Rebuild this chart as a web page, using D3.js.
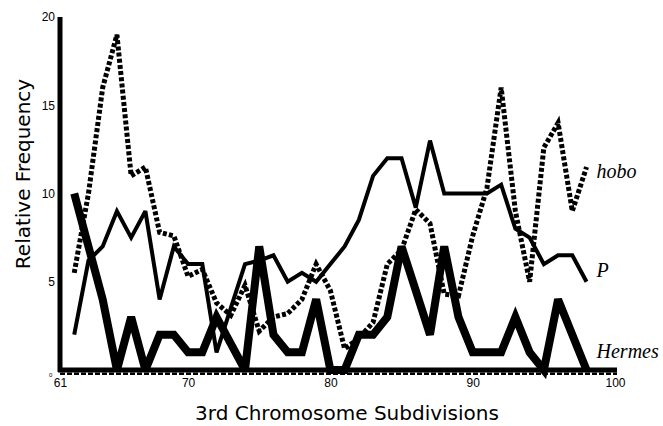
<!DOCTYPE html>
<html>
<head>
<meta charset="utf-8">
<script src="https://cdn.jsdelivr.net/npm/d3@7.9.0/dist/d3.min.js"></script>
<style>
  body { margin: 0; background: #fff; }
  svg { display: block; }
  .tick text { font-family: "Liberation Sans", Arial, sans-serif; fill: #000; }
  .title { font-family: "DejaVu Sans", sans-serif; fill: #000; }
  .series-label { font-family: "Liberation Serif", "Times New Roman", serif; font-style: italic; fill: #000; }
</style>
</head>
<body>
<svg id="chart" width="663" height="426"></svg>
<script>
// chromosome 3 subdivisions (x) and relative frequency of insertions per element
const subdivisions = [62, 63, 64, 65, 66, 67, 68, 69, 70, 71, 72, 73, 74, 75, 76, 77, 78, 79, 80,
  81, 82, 83, 84, 85, 86, 87, 88, 89, 90, 91, 92, 93, 94, 95, 96, 97, 98];

const hoboValues = [5.5, 10, 16, 19, 11, 11.5, 7.8, 7.6, 5.3, 5.7, 3.8, 3.1, 4.8, 2.2, 3, 3.2, 4, 6, 4.5,
  1.2, 1.8, 2.7, 6, 6.8, 9.1, 8.3, 4.3, 4.2, 7.6, 10.3, 16, 9, 5, 12.6, 14, 9, 11.5];

const pValues = [2, 6.2, 7, 9, 7.5, 9, 4, 7, 6, 6, 1, 3.5, 6, 6.2, 6.5, 5, 5.5, 5, 6,
  7, 8.5, 11, 12, 12, 9.2, 13, 10, 10, 10, 10, 10.5, 8, 7.5, 6, 6.5, 6.5, 5];

const hermesValues = [10, 7, 4, 0, 3, 0, 2, 2, 1, 1, 3, 1.5, 0, 7, 2, 1, 1, 4, 0,
  0, 2, 2, 3, 7, 4.5, 2, 7, 3, 1, 1, 1, 3, 1, 0, 4, 2, 0];

const seriesNames = ['hobo', 'P', 'Hermes'];
const yTicks = [5, 10, 15, 20];
const xTicks = [61, 70, 80, 90, 100];

const svg = d3.select('#chart');

const x = d3.scaleLinear().domain([61, 100]).range([60, 615]);
const y = d3.scaleLinear().domain([0, 20]).range([370, 17]);

const line = d3.line()
  .x((d) => x(d[0]))
  .y((d) => y(d[1]));

// line styles: hobo dotted, P thin, Hermes thick
const styles = {
  hobo: { width: 5, dash: '4,2.2', labelDy: 11 },
  P: { width: 4, dash: null, labelDy: -5 },
  Hermes: { width: 8, dash: null, labelDy: -12 },
};
const seriesValues = { hobo: hoboValues, P: pValues, Hermes: hermesValues };

seriesNames.forEach((name) => {
  const pts = subdivisions.map((s, i) => [s, seriesValues[name][i]]);
  const st = styles[name];
  svg.append('path')
    .attr('d', line(pts))
    .attr('fill', 'none')
    .attr('stroke', '#000')
    .attr('stroke-width', st.width)
    .attr('stroke-linejoin', 'miter')
    .attr('stroke-miterlimit', 3)
    .attr('stroke-dasharray', st.dash);

  const last = pts[pts.length - 1];
  svg.append('text')
    .attr('class', 'series-label')
    .attr('x', x(last[0]) + 10)
    .attr('y', y(last[1]) + st.labelDy)
    .attr('font-size', 20)
    .text(name);
});

// axes
svg.append('line')
  .attr('x1', x(61)).attr('x2', x(61))
  .attr('y1', y(20)).attr('y2', y(0) + 2)
  .attr('stroke', '#000').attr('stroke-width', 5);

svg.append('line')
  .attr('x1', x(61) - 2).attr('x2', x(100) + 2)
  .attr('y1', y(0)).attr('y2', y(0))
  .attr('stroke', '#000').attr('stroke-width', 5);

svg.append('line')
  .attr('x1', x(61)).attr('x2', x(100) + 2)
  .attr('y1', y(0) + 3.8).attr('y2', y(0) + 3.8)
  .attr('stroke', '#000').attr('stroke-width', 2.5)
  .attr('stroke-dasharray', '5,2');

const yAxis = svg.append('g')
  .attr('transform', `translate(${x(61) - 3},0)`)
  .call(d3.axisLeft(y).tickValues(yTicks).tickSize(0).tickPadding(2));
yAxis.select('.domain').remove();
yAxis.selectAll('text').attr('font-size', 12);

const xAxis = svg.append('g')
  .attr('transform', `translate(0,${y(0) + 4})`)
  .call(d3.axisBottom(x).tickValues(xTicks).tickSize(0).tickPadding(4));
xAxis.select('.domain').remove();
xAxis.selectAll('text').attr('font-size', 12);

// tiny zero label at the origin
svg.append('text')
  .attr('x', x(61) - 11)
  .attr('y', y(0) + 7)
  .attr('font-family', 'Liberation Sans, Arial, sans-serif')
  .attr('font-size', 6)
  .text('0');

// axis titles
svg.append('text')
  .attr('class', 'title')
  .attr('transform', 'translate(30,174) rotate(-90)')
  .attr('text-anchor', 'middle')
  .attr('font-size', 20)
  .text('Relative Frequency');

svg.append('text')
  .attr('class', 'title')
  .attr('x', 347)
  .attr('y', 420)
  .attr('text-anchor', 'middle')
  .attr('font-size', 20)
  .text('3rd Chromosome Subdivisions');
</script>
</body>
</html>
